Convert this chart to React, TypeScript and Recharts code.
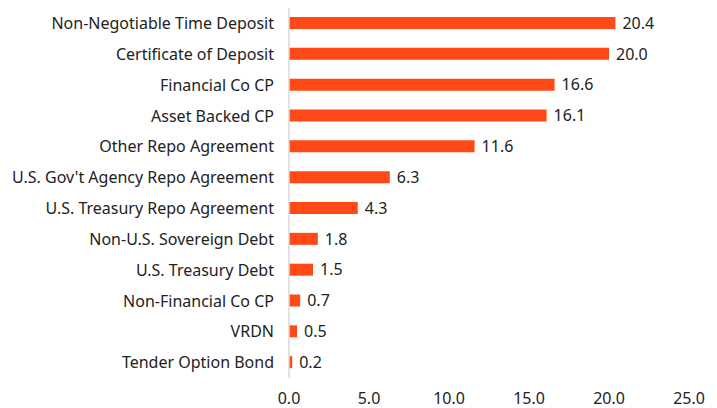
import { BarChart, Bar, XAxis, YAxis, LabelList } from "recharts";

const categories = [
  "Non-Negotiable Time Deposit",
  "Certificate of Deposit",
  "Financial Co CP",
  "Asset Backed CP",
  "Other Repo Agreement",
  "U.S. Gov't Agency Repo Agreement",
  "U.S. Treasury Repo Agreement",
  "Non-U.S. Sovereign Debt",
  "U.S. Treasury Debt",
  "Non-Financial Co CP",
  "VRDN",
  "Tender Option Bond",
];
const values = [20.4, 20.0, 16.6, 16.1, 11.6, 6.3, 4.3, 1.8, 1.5, 0.7, 0.5, 0.2];
const xTicks = [0, 5, 10, 15, 20, 25];

const data = categories.map((name, i) => ({ name, value: values[i] }));

const FONT = "'Noto Sans', sans-serif";
const TEXT = "#222";

export default function App() {
  return (
    <div style={{ position: "absolute", left: 0, top: 0, width: 717, height: 408, background: "#fff" }}>
      <BarChart
        width={717}
        height={408}
        data={data}
        layout="vertical"
        margin={{ top: 8, right: 28, left: 0, bottom: 0 }}
        barCategoryGap="28%"
      >
        <XAxis
          type="number"
          domain={[0, 25]}
          ticks={xTicks}
          tickFormatter={(v: number) => v.toFixed(1)}
          axisLine={false}
          tickLine={false}
          tickSize={0}
          tickMargin={15}
          height={30}
          interval={0}
          tick={{ fill: TEXT, fontSize: 16, fontFamily: FONT }}
        />
        <YAxis
          type="category"
          dataKey="name"
          width={289}
          axisLine={{ stroke: "#d9d9d9", strokeWidth: 1.5 }}
          tickLine={false}
          tickSize={0}
          tickMargin={15}
          interval={0}
          tick={{ fill: TEXT, fontSize: 16, fontFamily: FONT }}
        />
        <Bar dataKey="value" fill="#ff4a17" barSize={12} isAnimationActive={false}>
          <LabelList
            dataKey="value"
            position="right"
            offset={7}
            formatter={(v: number) => v.toFixed(1)}
            style={{ fill: TEXT, fontSize: 16, fontFamily: FONT }}
          />
        </Bar>
      </BarChart>
    </div>
  );
}
